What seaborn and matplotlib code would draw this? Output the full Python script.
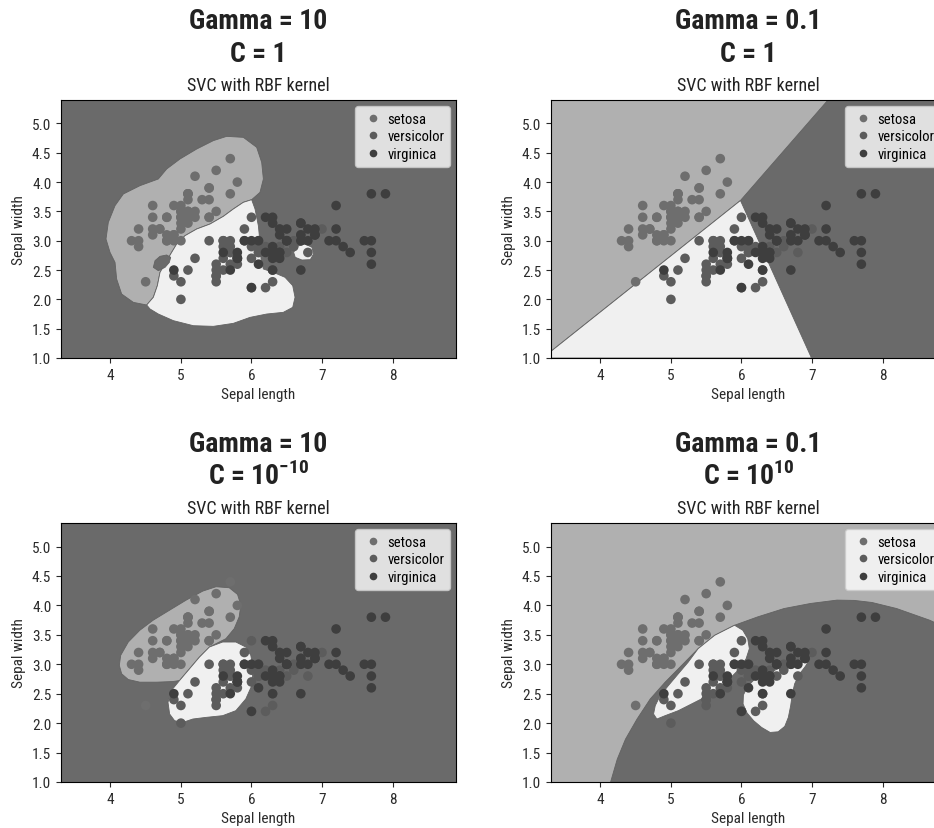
import matplotlib
matplotlib.use("Agg")
import matplotlib.pyplot as plt
from matplotlib import font_manager as fm
from matplotlib.lines import Line2D
import seaborn as sns
import pandas as pd

# ---------------- data (iris: sepal length / sepal width) ----------------
setosa_len = [5.1, 4.9, 4.7, 4.6, 5.0, 5.4, 4.6, 5.0, 4.4, 4.9, 5.4, 4.8, 4.8, 4.3, 5.8, 5.7, 5.4, 5.1, 5.7, 5.1,
              5.4, 5.1, 4.6, 5.1, 4.8, 5.0, 5.0, 5.2, 5.2, 4.7, 4.8, 5.4, 5.2, 5.5, 4.9, 5.0, 5.5, 4.9, 4.4, 5.1,
              5.0, 4.5, 4.4, 5.0, 5.1, 4.8, 5.1, 4.6, 5.3, 5.0]
setosa_wid = [3.5, 3.0, 3.2, 3.1, 3.6, 3.9, 3.4, 3.4, 2.9, 3.1, 3.7, 3.4, 3.0, 3.0, 4.0, 4.4, 3.9, 3.5, 3.8, 3.8,
              3.4, 3.7, 3.6, 3.3, 3.4, 3.0, 3.4, 3.5, 3.4, 3.2, 3.1, 3.4, 4.1, 4.2, 3.1, 3.2, 3.5, 3.6, 3.0, 3.4,
              3.5, 2.3, 3.2, 3.5, 3.8, 3.0, 3.8, 3.2, 3.7, 3.3]
versicolor_len = [7.0, 6.4, 6.9, 5.5, 6.5, 5.7, 6.3, 4.9, 6.6, 5.2, 5.0, 5.9, 6.0, 6.1, 5.6, 6.7, 5.6, 5.8, 6.2, 5.6,
                  5.9, 6.1, 6.3, 6.1, 6.4, 6.6, 6.8, 6.7, 6.0, 5.7, 5.5, 5.5, 5.8, 6.0, 5.4, 6.0, 6.7, 6.3, 5.6, 5.5,
                  5.5, 6.1, 5.8, 5.0, 5.6, 5.7, 5.7, 6.2, 5.1, 5.7]
versicolor_wid = [3.2, 3.2, 3.1, 2.3, 2.8, 2.8, 3.3, 2.4, 2.9, 2.7, 2.0, 3.0, 2.2, 2.9, 2.9, 3.1, 3.0, 2.7, 2.2, 2.5,
                  3.2, 2.8, 2.5, 2.8, 2.9, 3.0, 2.8, 3.0, 2.9, 2.6, 2.4, 2.4, 2.7, 2.7, 3.0, 3.4, 3.1, 2.3, 3.0, 2.5,
                  2.6, 3.0, 2.6, 2.3, 2.7, 3.0, 2.9, 2.9, 2.5, 2.8]
virginica_len = [6.3, 5.8, 7.1, 6.3, 6.5, 7.6, 4.9, 7.3, 6.7, 7.2, 6.5, 6.4, 6.8, 5.7, 5.8, 6.4, 6.5, 7.7, 7.7, 6.0,
                 6.9, 5.6, 7.7, 6.3, 6.7, 7.2, 6.2, 6.1, 6.4, 7.2, 7.4, 7.9, 6.4, 6.3, 6.1, 7.7, 6.3, 6.4, 6.0, 6.9,
                 6.7, 6.9, 5.8, 6.8, 6.7, 6.7, 6.3, 6.5, 6.2, 5.9]
virginica_wid = [3.3, 2.7, 3.0, 2.9, 3.0, 3.0, 2.5, 2.9, 2.5, 3.6, 3.2, 2.7, 3.0, 2.5, 2.8, 3.2, 3.0, 3.8, 2.6, 2.2,
                 3.2, 2.8, 2.8, 2.7, 3.3, 3.2, 2.8, 3.0, 2.8, 3.0, 2.8, 3.8, 2.8, 2.8, 2.6, 3.0, 3.4, 3.1, 3.0, 3.1,
                 3.1, 3.1, 2.7, 3.2, 3.3, 3.0, 2.5, 3.0, 3.4, 3.0]
species = ["setosa", "versicolor", "virginica"]

gamma_labels = ["Gamma = 10", "Gamma = 0.1", "Gamma = 10", "Gamma = 0.1"]
c_labels = ["C = 1", "C = 1", r"C = 10$^{\mathbf{-10}}$", r"C = 10$^{\mathbf{10}}$"]
subtitle = "SVC with RBF kernel"

# decision regions (data coordinates)
p1_gray = [(4.515, 1.904), (4.326, 1.949), (4.160, 2.091), (4.089, 2.347), (4.066, 2.631), (3.995, 2.802),
           (3.938, 3.029), (3.971, 3.314), (4.066, 3.598), (4.184, 3.797), (4.420, 3.939), (4.680, 4.053),
           (4.798, 4.223), (4.987, 4.394), (5.224, 4.564), (5.460, 4.707), (5.649, 4.780), (5.885, 4.763),
           (6.074, 4.593), (6.145, 4.337), (6.169, 4.053), (6.121, 3.825), (6.003, 3.700), (5.885, 3.655),
           (5.743, 3.541), (5.602, 3.416), (5.413, 3.285), (5.224, 3.200), (5.058, 3.086), (4.940, 2.944),
           (4.855, 2.774), (4.704, 2.461), (4.666, 2.233), (4.609, 2.035)]
p1_white = [(6.003, 3.700), (6.051, 3.541), (6.098, 3.257), (6.121, 2.973), (6.136, 2.688), (6.169, 2.518),
            (6.310, 2.461), (6.476, 2.376), (6.585, 2.234), (6.618, 2.035), (6.585, 1.864), (6.452, 1.779),
            (6.216, 1.750), (5.980, 1.693), (5.743, 1.591), (5.460, 1.540), (5.176, 1.551), (4.893, 1.637),
            (4.680, 1.750), (4.562, 1.836), (4.515, 1.904), (4.609, 2.035), (4.666, 2.233), (4.704, 2.461),
            (4.855, 2.774), (4.940, 2.944), (5.058, 3.086), (5.224, 3.200), (5.413, 3.285), (5.602, 3.416),
            (5.743, 3.541), (5.885, 3.655)]
p1_dark_blob = [(4.609, 2.546), (4.633, 2.660), (4.704, 2.734), (4.798, 2.757), (4.855, 2.717),
                (4.836, 2.631), (4.775, 2.546), (4.680, 2.489)]
p1_white_blob = [(6.598, 2.802), (6.645, 2.904), (6.763, 2.944), (6.858, 2.887), (6.881, 2.774),
                 (6.834, 2.677), (6.716, 2.671), (6.621, 2.717)]

p2_gray = [(3.3, 5.4), (7.227, 5.4), (5.986, 3.686), (3.3, 1.114)]
p2_white = [(3.3, 1.0), (3.3, 1.114), (5.986, 3.686), (6.993, 1.0)]

p3_gray = [(4.127, 2.980), (4.146, 3.151), (4.254, 3.378), (4.418, 3.578), (4.606, 3.748), (4.840, 3.919),
           (5.075, 4.090), (5.310, 4.243), (5.498, 4.317), (5.685, 4.300), (5.803, 4.186), (5.850, 4.004),
           (5.826, 3.805), (5.756, 3.606), (5.638, 3.435), (5.404, 3.293), (5.263, 3.122), (5.122, 2.923),
           (4.981, 2.724), (4.887, 2.707), (4.653, 2.696), (4.418, 2.696), (4.254, 2.741), (4.160, 2.838)]
p3_white = [(5.404, 3.293), (5.592, 3.378), (5.779, 3.378), (5.920, 3.293), (5.991, 3.151), (6.023, 2.923),
            (6.005, 2.639), (5.920, 2.411), (5.779, 2.212), (5.592, 2.127), (5.357, 2.098), (5.169, 2.070),
            (5.028, 2.013), (4.911, 2.041), (4.840, 2.155), (4.817, 2.354), (4.864, 2.553), (4.981, 2.724),
            (5.122, 2.923), (5.263, 3.122)]

p4_dark = [(4.145, 1.0), (4.239, 1.387), (4.356, 1.728), (4.520, 2.070), (4.707, 2.411), (4.918, 2.696),
           (5.152, 2.980), (5.386, 3.265), (5.621, 3.492), (5.902, 3.663), (6.230, 3.805), (6.604, 3.947),
           (6.979, 4.033), (7.354, 4.090), (7.600, 4.085), (7.850, 4.050), (8.200, 3.947), (8.670, 3.748),
           (8.900, 3.620), (8.900, 1.0)]
p4_white_left = [(5.902, 3.663), (6.019, 3.578), (6.089, 3.435), (6.112, 3.265), (6.066, 3.094), (5.972, 2.923),
                 (5.831, 2.752), (5.667, 2.582), (5.480, 2.440), (5.293, 2.326), (5.105, 2.212), (4.918, 2.127),
                 (4.801, 2.070), (4.754, 2.155), (4.778, 2.297), (4.848, 2.468), (4.965, 2.639), (5.105, 2.838),
                 (5.246, 3.037), (5.386, 3.265), (5.621, 3.492)]
p4_white_right = [(6.970, 3.094), (6.909, 2.969), (6.815, 2.821), (6.754, 2.667), (6.721, 2.496), (6.698, 2.297),
                  (6.665, 2.098), (6.614, 1.945), (6.520, 1.853), (6.407, 1.842), (6.286, 1.927), (6.173, 2.041),
                  (6.080, 2.172), (6.023, 2.326), (6.028, 2.479), (6.089, 2.627), (6.183, 2.741), (6.323, 2.826),
                  (6.487, 2.906), (6.651, 2.991), (6.792, 3.065), (6.909, 3.111)]

# ---------------- styling ----------------
DARK, GRAY, WHITE = "#6a6a6a", "#b0b0b0", "#f0f0f0"
palette = {"setosa": "#6e6e6e", "versicolor": "#5c5c5c", "virginica": "#3e3e3e"}

names = {f.name for f in fm.fontManager.ttflist}
FONT = next(c for c in ["Roboto Condensed", "Liberation Sans Narrow", "DejaVu Sans Condensed",
                        "Roboto", "DejaVu Sans"] if c in names)
plt.rcParams["font.family"] = [FONT, "DejaVu Sans"]
plt.rcParams["mathtext.fontset"] = "custom"
plt.rcParams["mathtext.rm"] = FONT
plt.rcParams["mathtext.bf"] = FONT + ":bold"

df = pd.DataFrame({
    "Sepal length": setosa_len + versicolor_len + virginica_len,
    "Sepal width": setosa_wid + versicolor_wid + virginica_wid,
    "species": ["setosa"] * len(setosa_len) + ["versicolor"] * len(versicolor_len)
               + ["virginica"] * len(virginica_len),
})

W, H = 934, 829
fig = plt.figure(figsize=(W / 100, H / 100), dpi=100)

# axes pixel boxes: left, top, width, height
boxes = [(61, 101, 395, 258), (551, 101, 395, 258), (61, 524, 395, 259), (551, 524, 395, 259)]
backgrounds = [DARK, DARK, DARK, GRAY]
regions = [
    [(p1_gray, GRAY), (p1_white, WHITE), (p1_dark_blob, DARK), (p1_white_blob, WHITE)],
    [(p2_gray, GRAY), (p2_white, WHITE)],
    [(p3_gray, GRAY), (p3_white, WHITE)],
    [(p4_dark, DARK), (p4_white_left, WHITE), (p4_white_right, WHITE)],
]

for i, (l, t, w, h) in enumerate(boxes):
    ax = fig.add_axes([l / W, 1 - (t + h) / H, w / W, h / H])
    ax.set_facecolor(backgrounds[i])
    for poly, col in regions[i]:
        xs = [p[0] for p in poly]
        ys = [p[1] for p in poly]
        ax.fill(xs, ys, facecolor=col, edgecolor="#626262", linewidth=0.6, zorder=0.5)
    sns.scatterplot(data=df, x="Sepal length", y="Sepal width", hue="species", hue_order=species,
                    palette=palette, s=48, linewidth=0, legend=False, ax=ax, zorder=2)
    ax.set_xlim(3.3, 8.9)
    ax.set_ylim(1.0, 5.4)
    ax.set_xticks([4, 5, 6, 7, 8])
    ax.set_yticks([1.0, 1.5, 2.0, 2.5, 3.0, 3.5, 4.0, 4.5, 5.0])
    ax.set_yticklabels([f"{v:.1f}" for v in [1.0, 1.5, 2.0, 2.5, 3.0, 3.5, 4.0, 4.5, 5.0]])
    ax.tick_params(labelsize=11, colors="#2a2a2a")
    ax.set_xlabel("Sepal length", fontsize=11, color="#2a2a2a")
    ax.set_ylabel("Sepal width", fontsize=11, color="#2a2a2a")
    handles = [Line2D([], [], linestyle="none", marker="o", markersize=5.5, markerfacecolor=palette[s],
                      markeredgewidth=0, label=s) for s in species]
    ax.legend(handles=handles, loc="upper right", fontsize=10.5, handletextpad=0.2,
              borderpad=0.4, labelspacing=0.25, handlelength=1.6, borderaxespad=0.4)

    cx = (l + w / 2) / W
    fig.text(cx, 1 - (t - 72) / H, gamma_labels[i], ha="center", va="baseline",
             fontsize=20, fontweight="bold", color="#222222")
    fig.text(cx, 1 - (t - 39) / H, c_labels[i], ha="center", va="baseline",
             fontsize=20, fontweight="bold", color="#222222")
    fig.text(cx, 1 - (t - 10) / H, subtitle, ha="center", va="baseline",
             fontsize=13, color="#222222")

fig.savefig("out.png", dpi=100)
